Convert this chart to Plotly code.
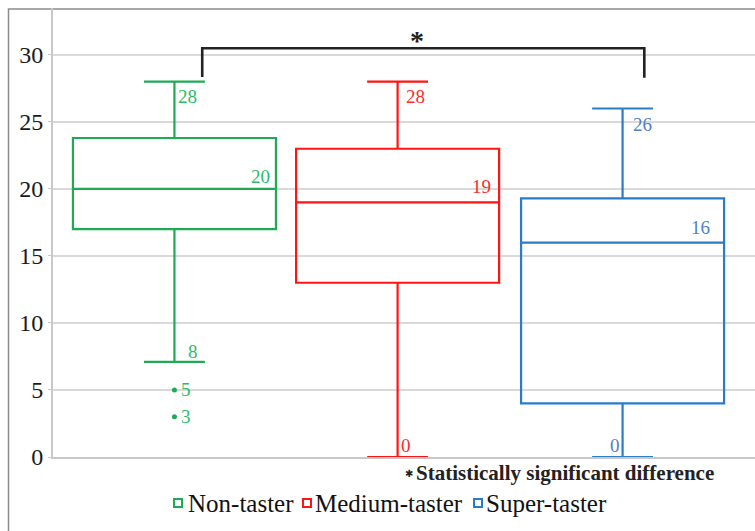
import plotly.graph_objects as go

# ---- data ----
groups = ["Non-taster", "Medium-taster", "Super-taster"]
positions = [0, 0.996, 2.0]
q1 = [17, 13, 4]
median = [20, 19, 16]
q3 = [23.8, 23, 19.3]
lower = [7.1, 0, 0]
upper = [28, 28, 26]
outlier_x = [0, 0]
outlier_y = [5, 3]
upper_labels = ["28", "28", "26"]
median_labels = ["20", "19", "16"]
lower_labels = ["8", "0", "0"]
outlier_labels = ["5", "3"]
y_ticks = [0, 5, 10, 15, 20, 25, 30]

line_colors = ["#1fab54", "#ff1414", "#2a7cc6"]
text_colors = ["#2bbb6b", "#ff2a2a", "#5080cc"]

BOX_W = 0.906
SERIF = "Liberation Serif"

fig = go.Figure()
for i, g in enumerate(groups):
    fig.add_trace(go.Box(
        x=[positions[i]], q1=[q1[i]], median=[median[i]], q3=[q3[i]],
        lowerfence=[lower[i]], upperfence=[upper[i]],
        name=g, width=BOX_W, whiskerwidth=0.3,
        line=dict(color=line_colors[i], width=2.2),
        fillcolor="rgba(0,0,0,0)", boxpoints=False, showlegend=False,
        hoverinfo="skip",
    ))

fig.add_trace(go.Scatter(
    x=outlier_x, y=outlier_y, mode="markers",
    marker=dict(color=line_colors[0], size=5), showlegend=False, hoverinfo="skip",
))

ann = []
def lab(text, x, y, color, xanchor, yanchor, xshift=0, yshift=0, size=19):
    ann.append(dict(text=text, x=x, y=y, xref="x", yref="y", showarrow=False,
                    xanchor=xanchor, yanchor=yanchor, xshift=xshift, yshift=yshift,
                    font=dict(family=SERIF, size=size, color=color)))

# upper whisker labels
up_shift = [2, 6, 8]
for i in range(3):
    lab(upper_labels[i], positions[i], upper[i], text_colors[i], "left", "top",
        xshift=up_shift[i], yshift=-2 if i < 2 else -3)
# median labels
med_shift = [-4, -6, -12]
for i in range(3):
    lab(median_labels[i], positions[i] + BOX_W / 2, median[i], text_colors[i],
        "right", "bottom", xshift=med_shift[i], yshift=0 if i == 0 else 3)
# lower whisker labels
lab(lower_labels[0], positions[0], lower[0], text_colors[0], "left", "bottom", xshift=12, yshift=-2)
lab(lower_labels[1], positions[1], lower[1], text_colors[1], "left", "bottom", xshift=1, yshift=-1)
lab(lower_labels[2], positions[2], lower[2], text_colors[2], "right", "bottom", xshift=-1, yshift=-1)
# outlier labels
for xv, yv, t in zip(outlier_x, outlier_y, outlier_labels):
    lab(t, xv, yv, text_colors[0], "left", "middle", xshift=5)

# significance star above bracket
ann.append(dict(text="<b>*</b>", x=1.083, y=30.5, xref="x", yref="y", showarrow=False,
                xanchor="center", yanchor="bottom", yshift=-10,
                font=dict(family=SERIF, size=28, color="#222222")))

# helper for pixel->paper
def px(xp):
    return (xp - 53) / 702
def py(yp):
    return (457 - yp) / 449

# note text
ann.append(dict(text="✱", x=px(409), y=py(473), xref="paper", yref="paper", showarrow=False,
                xanchor="center", yanchor="middle",
                font=dict(family="DejaVu Sans", size=10, color="#222222")))
ann.append(dict(text="<b>Statistically significant difference</b>", x=px(414), y=py(473),
                xref="paper", yref="paper", showarrow=False, xanchor="left", yanchor="middle",
                font=dict(family=SERIF, size=21, color="#222222")))

# manual legend
leg_sq = [178, 307, 478]
leg_tx = [186, 313, 484]
shapes = []
for i, g in enumerate(groups):
    ann.append(dict(text=g, x=px(leg_tx[i]), y=py(504), xref="paper", yref="paper",
                    showarrow=False, xanchor="left", yanchor="middle",
                    font=dict(family=SERIF, size=25, color="#111111")))
    shapes.append(dict(type="rect", xref="paper", yref="paper",
                       x0=px(leg_sq[i] - 4), x1=px(leg_sq[i] + 4),
                       y0=py(507), y1=py(499),
                       line=dict(color=line_colors[i], width=2)))

# significance bracket
shapes.append(dict(type="path", xref="x", yref="y",
                   path="M 0.124,28.35 L 0.124,30.5 L 2.097,30.5 L 2.097,28.3",
                   line=dict(color="#222222", width=2.6)))
# outer frame
shapes.append(dict(type="rect", xref="paper", yref="paper",
                   x0=px(8.5), x1=1.05, y0=-0.3, y1=py(9),
                   line=dict(color="#8c8c8c", width=1.5), layer="below"))

fig.update_layout(
    width=755, height=531,
    margin=dict(l=53, r=0, t=8, b=74),
    paper_bgcolor="white", plot_bgcolor="white",
    annotations=ann, shapes=shapes, showlegend=False,
    xaxis=dict(range=[-0.542, 2.591], showticklabels=False, showgrid=False,
               zeroline=False, showline=True, linecolor="#c8c8c8", linewidth=2,
               fixedrange=True),
    yaxis=dict(range=[0, 33.5], tickvals=y_ticks, ticktext=[str(v) for v in y_ticks],
               showgrid=True, gridcolor="#d9d9d9", gridwidth=1.5,
               zeroline=False, showline=True, linecolor="#c8c8c8", linewidth=2,
               ticks="outside", ticklen=3, tickcolor="#c8c8c8",
               tickfont=dict(family=SERIF, size=24, color="#1a1a1a"),
               fixedrange=True),
)

fig.write_html(
    "out.html",
    config={"displayModeBar": False},
    post_script="document.body.style.margin='0';document.body.style.overflow='hidden';",
)
